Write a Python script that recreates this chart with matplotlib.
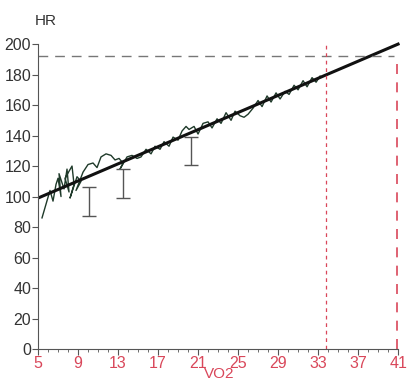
import numpy as np
import matplotlib
matplotlib.use("Agg")
import matplotlib.pyplot as plt

plt.rcParams['font.family'] = ['Liberation Sans', 'DejaVu Sans']

# measured HR vs VO2 trace
vo2 = [5.4, 5.8, 6.2, 6.5, 6.8, 7.0, 7.3, 7.1, 7.6, 7.9, 8.1, 7.7, 8.4, 8.6, 8.2,
       8.9, 9.3, 8.8, 9.5, 10.0, 10.5, 10.9, 11.3, 11.8, 12.3, 12.7, 13.1, 13.5,
       13.2, 13.9, 14.4, 14.9, 15.3, 15.8, 16.3, 16.7, 17.2, 17.6, 18.1, 18.5,
       19.0, 19.4, 19.8, 20.1, 20.6, 21.0, 21.5, 22.0, 22.4, 22.9, 23.3, 23.8,
       24.3, 24.7, 25.2, 25.6, 26.0, 26.5, 27.0, 27.4, 27.9, 28.3, 28.8, 29.2,
       29.7, 30.1, 30.6, 31.0, 31.5, 31.9, 32.4, 32.8, 33.2]
hr = [86, 95, 104, 97, 108, 112, 100, 115, 105, 118, 103, 112, 120, 108, 99,
      113, 110, 104, 116, 121, 122, 119, 126, 128, 127, 124, 125, 122,
      118, 126, 127, 125, 126, 131, 128, 133, 131, 136, 133, 139,
      137, 143, 146, 144, 146, 141, 148, 149, 145, 151, 148, 155,
      150, 156, 153, 152, 154, 158, 163, 159, 166, 162, 168, 164,
      169, 167, 173, 170, 176, 172, 178, 175, 179]

# regression line end points
fit_x = [5, 41]
fit_y = [99, 200]

# error bars (top / bottom)
eb_x = [10.1, 13.5, 20.3]
eb_top = [106, 118, 139]
eb_bot = [87, 99, 121]

hr_max = 192
vo2_max = 40.85
vo2_at = 33.8

xticks = [5, 9, 13, 17, 21, 25, 29, 33, 37, 41]
yticks = [0, 20, 40, 60, 80, 100, 120, 140, 160, 180, 200]

red = '#d9475a'

fig = plt.figure(figsize=(4.07, 3.83), dpi=100)
ax = fig.add_axes([0.0934, 0.0888, 0.8896, 0.808])

ax.plot(vo2, hr, color='#1f3a2a', lw=1.0)
ax.plot(fit_x, fit_y, color='#111111', lw=2.2)

lower = np.array(eb_top) - np.array(eb_bot)
ax.errorbar(eb_x, eb_top, yerr=[lower, np.zeros(len(eb_x))], fmt='none',
            ecolor='#555555', elinewidth=1.0, capsize=5, capthick=1.0)

ax.plot([5, 40.6], [hr_max, hr_max], color='#777777', lw=1.0, dashes=(7, 5))
ax.plot([vo2_max, vo2_max], [0, hr_max], color=red, lw=1.2, dashes=(6, 5))
ax.plot([vo2_at, vo2_at], [0, 201], color=red, lw=0.9, dashes=(3, 3))

ax.set_xlim(5, 41.2)
ax.set_ylim(0, 203)
ax.spines['top'].set_visible(False)
ax.spines['right'].set_visible(False)
ax.spines['left'].set_bounds(0, 200)
ax.spines['bottom'].set_bounds(5, 41)
for s in ('left', 'bottom'):
    ax.spines[s].set_color('#555555')

ax.set_xticks(xticks)
ax.set_xticks(np.arange(5, 42, 1), minor=True)
ax.set_yticks(yticks)
ax.tick_params(axis='y', direction='out', length=4, color='#555555',
               labelsize=11.5, labelcolor='#333333', pad=1)
ax.tick_params(axis='x', direction='out', length=4, color='#555555',
               labelsize=11.5, labelcolor=red, pad=1)
ax.tick_params(axis='x', which='minor', length=2, color='#555555')

ax.set_xlabel('VO2', color=red, fontsize=11, labelpad=-3)
fig.text(0.085, 0.935, 'HR', fontsize=11, color='#333333')

fig.savefig('out.png', dpi=100)
